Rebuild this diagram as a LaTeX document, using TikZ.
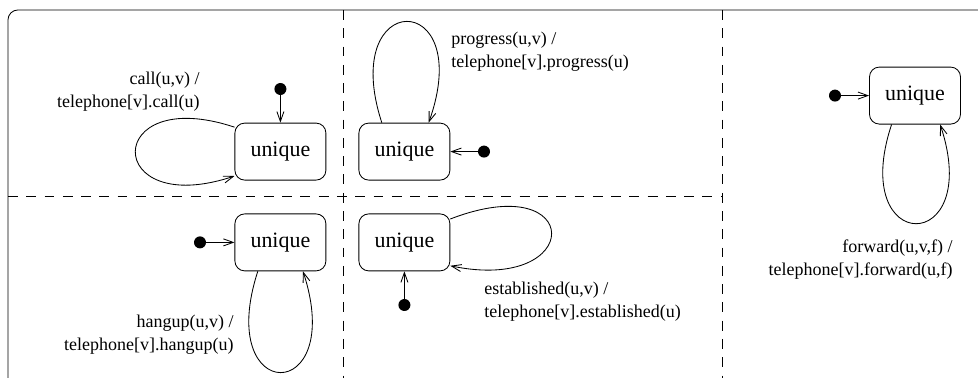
\documentclass[tikz,border=0pt]{standalone}
\usepackage{fontspec}
\setmainfont{Liberation Serif}
\usetikzlibrary{arrows.meta}

\begin{document}
\begin{tikzpicture}[line width=0.6pt,
        state/.style={draw, rounded corners=7pt, minimum width=2.275cm, minimum height=1.425cm, font=\fontsize{15.6}{18}\selectfont},
        init/.style={circle, fill, inner sep=0pt, minimum size=0.3cm},
        trans/.style={-{Straight Barb[length=7pt,width=5pt]}},
        lbl/.style={inner sep=0pt, font=\fontsize{12.8}{16.4}\selectfont},
        region/.style={dash pattern=on 7pt off 6pt}]
        \useasboundingbox (0,0) rectangle (24.45,9.45);
        \draw[rounded corners=7pt] (0.2,-0.5) -- (0.2,9.2) -- (25,9.2);
        \draw[region] (8.575,9.2) -- (8.575,0);
        \draw[region] (18.05,9.2) -- (18.05,0);
        \draw[region] (0.2,4.55) -- (18.05,4.55);
        \node[state] (s1) at (7.01,5.66) {unique};
        \node[state] (s2) at (10.11,5.66) {unique};
        \node[state] (s3) at (7.01,3.39) {unique};
        \node[state] (s4) at (10.11,3.39) {unique};
        \node[state] (s5) at (22.875,7.06) {unique};
        \node[init] (d1) at (7.01,7.225) {};
        \node[init] (d2) at (12.1,5.66) {};
        \node[init] (d3) at (5.0,3.39) {};
        \node[init] (d4) at (10.11,1.825) {};
        \node[init] (d5) at (20.875,7.06) {};
        \node[lbl, anchor=east, align=right] (l1) at (5.0,7.16) {call(u,v) /\\telephone[v].call(u)};
        \node[lbl, anchor=west, align=left] (l2) at (11.275,8.16) {progress(u,v) /\\telephone[v].progress(u)};
        \node[lbl, anchor=east, align=right] (l3) at (5.85,1.075) {hangup(u,v) /\\telephone[v].hangup(u)};
        \node[lbl, anchor=west, align=left] (l4) at (12.1,1.91) {established(u,v) /\\telephone[v].established(u)};
        \node[lbl, anchor=east, align=right] (l5) at (23.825,2.95) {forward(u,v,f) /\\telephone[v].forward(u,f)};
        \draw[trans] (d1) -- (s1);
        \draw[trans] (d2) -- (s2);
        \draw[trans] (d3) -- (s3);
        \draw[trans] (d4) -- (s4);
        \draw[trans] (d5) -- (s5);
        \draw[trans] (s1.152) .. controls +(-3.3,1.1) and +(-3.3,-1.1) .. (s1.208);
        \draw[trans] (s2.128) .. controls +(-1.1,3.37) and +(1.2,3.37) .. (s2.50);
        \draw[trans] (s3.232) .. controls +(-1.1,-3.37) and +(1.1,-3.37) .. (s3.308);
        \draw[trans] (s4.27) .. controls +(3.37,1.3) and +(3.37,-0.7) .. (s4.333);
        \draw[trans] (s5.231) .. controls +(-1.1,-3.3) and +(1.1,-3.3) .. (s5.311);
    \end{tikzpicture}
\end{document}
